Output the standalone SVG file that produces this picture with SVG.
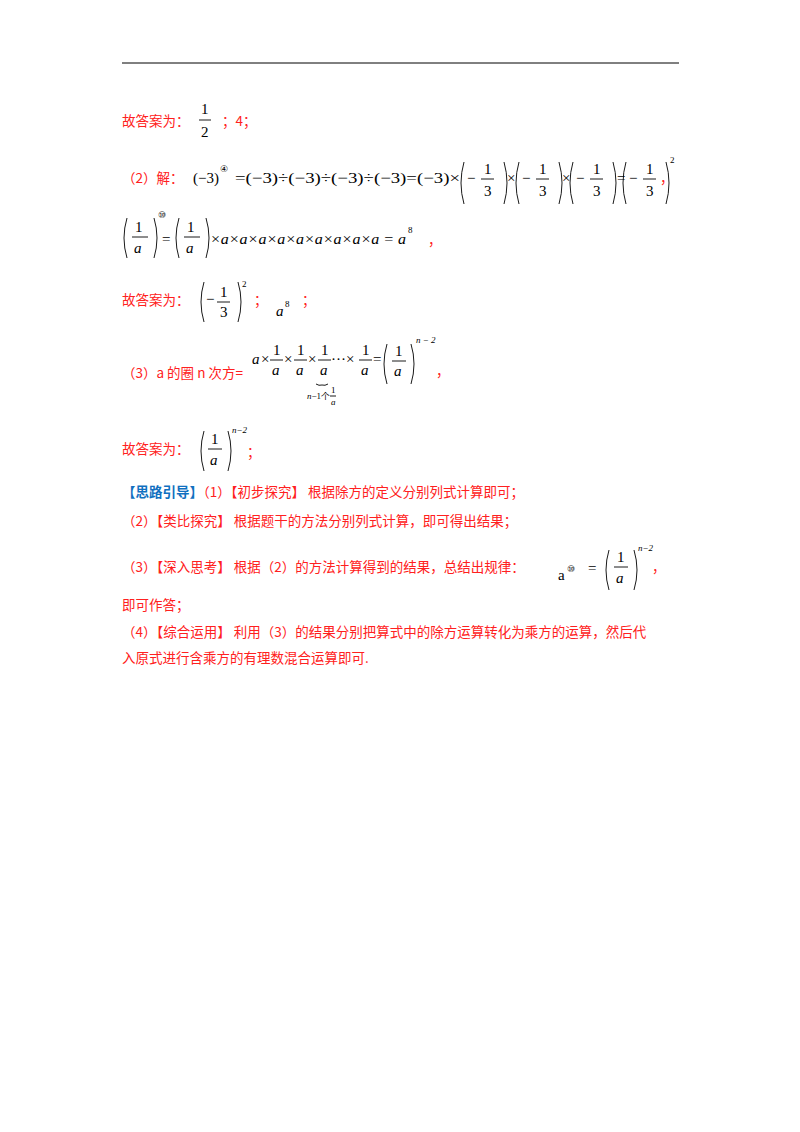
<svg xmlns="http://www.w3.org/2000/svg" width="800" height="1132" viewBox="0 0 800 1132">
<style>
.r{fill:#ff2020;font-family:"Noto Sans CJK SC","Liberation Serif",serif;font-size:13.5px}
.b{fill:#1070c0;font-family:"Noto Sans CJK SC",sans-serif;font-size:13.5px;font-weight:bold}
.m{fill:#000;font-family:"Liberation Serif",serif;font-size:15px}
.i{font-style:italic}
.s{font-size:9px}
.p{fill:none;stroke:#000;stroke-width:0.9}
</style>
<rect width="800" height="1132" fill="#fff"/>
<line x1="122" y1="63" x2="679" y2="63" stroke="#000" stroke-width="1"/>
<g id="line1">
<text class="r" x="122" y="126">故答案为：</text>
<text class="m" x="201" y="114">1</text><line class="p" x1="199" y1="120" x2="211" y2="120"/><text class="m" x="201" y="137">2</text>
<text class="r" x="222" y="126">；4；</text>
</g>
<g id="line2">
<text class="r" x="122" y="183">（2）解：</text>
<text class="m" x="193" y="183">(−3)</text><text class="m s" x="220" y="172">④</text>
<text class="m" x="235" y="183" textLength="225" lengthAdjust="spacingAndGlyphs">=(−3)÷(−3)÷(−3)÷(−3)=(−3)×</text>
<path class="p" d="M464 162 Q458 183 464 204 M504 162 Q510 183 504 204"/>
<text class="m" x="467" y="183">−</text><text class="m" x="484" y="174">1</text><line class="p" x1="481" y1="179" x2="494" y2="179"/><text class="m" x="484" y="196">3</text>
<text class="m" x="507" y="183">×</text>
<path class="p" d="M519 162 Q513 183 519 204 M559 162 Q565 183 559 204"/>
<text class="m" x="522" y="183">−</text><text class="m" x="539" y="174">1</text><line class="p" x1="536" y1="179" x2="549" y2="179"/><text class="m" x="539" y="196">3</text>
<text class="m" x="562" y="183">×</text>
<path class="p" d="M573 162 Q567 183 573 204 M613 162 Q619 183 613 204"/>
<text class="m" x="576" y="183">−</text><text class="m" x="593" y="174">1</text><line class="p" x1="590" y1="179" x2="603" y2="179"/><text class="m" x="593" y="196">3</text>
<text class="m" x="617" y="183">=</text>
<path class="p" d="M613 162 Z M631 162 Q625 183 631 204 M671 162 Q677 183 671 204" transform="translate(-5,0)"/>
<text class="m" x="629" y="183">−</text><text class="m" x="646" y="174">1</text><line class="p" x1="643" y1="179" x2="656" y2="179"/><text class="m" x="646" y="196">3</text>
<text class="m s" x="670" y="163">2</text>
<text class="r" x="660" y="183">，</text>
</g>
<g id="line3">
<path class="p" d="M127 218 Q121 238 127 258 M154 218 Q160 238 154 258"/>
<text class="m" x="135" y="232">1</text><line class="p" x1="132" y1="237" x2="148" y2="237"/><text class="m i" x="134" y="253">a</text>
<text class="m s" x="158" y="218">⑩</text>
<text class="m" x="162" y="244">=</text>
<path class="p" d="M179 218 Q173 238 179 258 M206 218 Q212 238 206 258"/>
<text class="m" x="187" y="232">1</text><line class="p" x1="184" y1="237" x2="200" y2="237"/><text class="m i" x="186" y="253">a</text>
<text class="m i" x="210" y="244" textLength="196" lengthAdjust="spacingAndGlyphs">×a×a×a×a×a×a×a×a×a = a</text>
<text class="m s" x="408" y="233">8</text>
<text class="r" x="428" y="245">，</text>
</g>
<g id="line4">
<text class="r" x="122" y="305">故答案为：</text>
<path class="p" d="M204 282 Q198 302 204 322 M238 282 Q244 302 238 322"/>
<text class="m" x="206" y="304">−</text><text class="m" x="220" y="297">1</text><line class="p" x1="217" y1="302" x2="230" y2="302"/><text class="m" x="220" y="317">3</text>
<text class="m s" x="242" y="287">2</text>
<text class="r" x="254" y="305">；</text>
<text class="m i" x="276" y="316">a</text><text class="m s" x="285" y="307">8</text>
<text class="r" x="302" y="305">；</text>
</g>
<g id="line5">
<text class="r" x="122" y="378">（3）a 的圈 n 次方=</text>
<text class="m i" x="252" y="364">a</text><text class="m" x="261" y="364">×</text>
<text class="m" x="273" y="355">1</text><line class="p" x1="270" y1="360" x2="283" y2="360"/><text class="m i" x="272" y="375">a</text>
<text class="m" x="284" y="364">×</text>
<text class="m" x="297" y="355">1</text><line class="p" x1="294" y1="360" x2="307" y2="360"/><text class="m i" x="296" y="375">a</text>
<text class="m" x="308" y="364">×</text>
<text class="m" x="321" y="355">1</text><line class="p" x1="318" y1="360" x2="331" y2="360"/><text class="m i" x="320" y="375">a</text>
<text class="m" x="331" y="364">···×</text>
<text class="m" x="362" y="355">1</text><line class="p" x1="359" y1="360" x2="372" y2="360"/><text class="m i" x="361" y="375">a</text>
<text class="m" x="373" y="364">=</text>
<path class="p" d="M387 344 Q381 364 387 384 M411 344 Q417 364 411 384"/>
<text class="m" x="395" y="356">1</text><line class="p" x1="392" y1="361" x2="406" y2="361"/><text class="m i" x="394" y="376">a</text>
<text class="m s i" x="416" y="343">n − 2</text>
<path class="p" d="M316 384 Q319 386 322 385 Q325 386 328 384"/>
<text class="m s" x="307" y="399"><tspan class="i">n</tspan>−1个</text>
<text class="m s" x="331" y="393">1</text><line class="p" x1="330" y1="396" x2="336" y2="396" stroke-width="0.6"/><text class="m s i" x="331" y="405">a</text>
<text class="r" x="436" y="376">，</text>
</g>
<g id="line6">
<text class="r" x="122" y="454">故答案为：</text>
<path class="p" d="M204 431 Q198 451 204 471 M228 431 Q234 451 228 471"/>
<text class="m" x="211" y="444">1</text><line class="p" x1="208" y1="449" x2="222" y2="449"/><text class="m i" x="210" y="465">a</text>
<text class="m s i" x="232" y="433">n−2</text>
<text class="r" x="247" y="457">；</text>
</g>
<g id="hints">
<text x="122" y="497"><tspan class="b">【思路引导】</tspan><tspan class="r">（1）【初步探究】 根据除方的定义分别列式计算即可；</tspan></text>
<text class="r" x="122" y="526">（2）【类比探究】 根据题干的方法分别列式计算，即可得出结果；</text>
<text class="r" x="122" y="572">（3）【深入思考】 根据（2）的方法计算得到的结果，总结出规律：</text>
<text class="m" x="558" y="580">a</text><text class="m s" x="567" y="572">⑩</text>
<text class="m" x="588" y="573">=</text>
<path class="p" d="M609 550 Q603 570 609 590 M634 550 Q640 570 634 590"/>
<text class="m" x="617" y="562">1</text><line class="p" x1="614" y1="567" x2="628" y2="567"/><text class="m i" x="616" y="583">a</text>
<text class="m s i" x="638" y="551">n−2</text>
<text class="r" x="652" y="572">，</text>
<text class="r" x="122" y="610">即可作答；</text>
<text class="r" x="122" y="637">（4）【综合运用】 利用（3）的结果分别把算式中的除方运算转化为乘方的运算，然后代</text>
<text class="r" x="122" y="663">入原式进行含乘方的有理数混合运算即可.</text>
</g>
</svg>
